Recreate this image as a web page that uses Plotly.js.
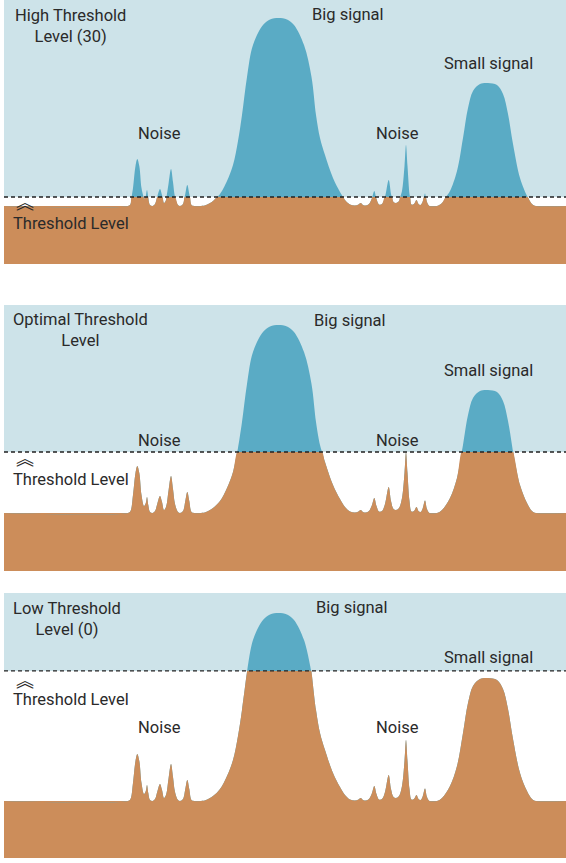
<!DOCTYPE html>
<html>
<head>
<meta charset="utf-8">
<script src="https://cdn.plot.ly/plotly-3.0.1.min.js"></script>
<style>html,body{margin:0;padding:0;background:#fff;}#chart{width:566px;height:863px;}</style>
</head>
<body>
<div id="chart"></div>
<script>
// Signal trace (time, amplitude above the noise floor)
const sigX = [4, 128, 130.5, 133, 135.5, 137.3, 139.3, 141.5, 144, 145.8, 147, 148.3, 150, 152.5, 155, 157.5, 160, 162, 164, 166, 168.5, 171, 173, 175, 178, 180, 183, 185.3, 187.3, 189.3, 191.5, 194, 201, 206, 213, 220, 227, 233, 238, 242, 247, 253, 263, 270, 278.5, 287, 294, 304, 311.5, 316, 320, 325, 333, 340, 345, 350, 355, 358.5, 360.7, 363, 366, 369, 372, 374.3, 376.5, 379, 382, 385, 388.7, 391, 393.5, 396, 399, 402, 404.5, 406, 407.5, 409.5, 411.5, 414, 416.5, 418.5, 420.5, 422.5, 425, 427, 429.5, 437, 442, 450, 457, 463, 468, 473, 480, 488, 497, 503, 508, 513, 520, 527, 532, 536, 566];
const sigY = [0, 0, 2, 18, 40, 47, 40, 18, 7, 10, 16, 8, 1, 0, 2, 10, 17, 11, 3, 6, 22, 37, 24, 9, 1, 0, 2, 12, 21, 12, 1, 0, 0, 1, 5, 12, 25, 41, 65, 91, 129, 161, 181, 186.5, 188, 186.5, 181, 161, 129, 91, 68, 51, 28, 14, 6, 1.5, 0.5, 1.5, 3, 1, 0.5, 2, 8, 15, 7, 1.5, 2, 9, 26, 12, 4, 3, 5, 15, 40, 61, 40, 12, 1.5, 2, 6, 2, 1, 4, 12.5, 4, 0, 0, 3, 15, 35, 68, 98, 115, 122, 123, 121, 112, 92, 62, 28, 10, 2, 0, 0];

// Threshold level of each panel (same amplitude units)
const thresholds = [9, 61, 130];
const panelTitles = ['High Threshold<br>Level (30)', 'Optimal Threshold<br>Level', 'Low Threshold<br>Level (0)'];
const signalLabels = ['Big signal', 'Small signal', 'Noise', 'Noise'];
const thresholdLabel = 'Threshold Level';

const LIGHT = '#cde3e9', BLUE = '#5aabc5', ORANGE = '#cc8d5a', INK = '#2a2a2a';
const FONT = 'Roboto, Arial, sans-serif';

// panel geometry
const panels = [
  {dom: [0.6923, 1.0], range: [-58, 206], title: [70, 180], big: [347.5, 192], chev: 5, tl: -17},
  {dom: [0.3345, 0.6445], range: [-58, 208], title: [80, 183], big: [350, 193], chev: 56, tl: 34},
  {dom: [0.0, 0.3089], range: [-57, 208], title: [67, 182], big: [352, 193], chev: 122, tl: 101}
];

function withCrossings(xs, ys, thr) {
  const X = [], Y = [];
  for (let i = 0; i < xs.length; i++) {
    X.push(xs[i]); Y.push(ys[i]);
    if (i < xs.length - 1 && (ys[i] - thr) * (ys[i + 1] - thr) < 0) {
      const xc = xs[i] + (thr - ys[i]) * (xs[i + 1] - xs[i]) / (ys[i + 1] - ys[i]);
      X.push(xc); Y.push(thr);
    }
  }
  return {X, Y};
}

const data = [], shapes = [], annotations = [];
const layout = {
  width: 566, height: 863, autosize: false,
  margin: {l: 4, r: 0, t: 0, b: 5},
  paper_bgcolor: '#fff', plot_bgcolor: 'rgba(0,0,0,0)',
  showlegend: false, shapes, annotations
};

panels.forEach((p, i) => {
  const n = i === 0 ? '' : String(i + 1);
  const xa = 'x' + n, ya = 'y' + n;
  const thr = thresholds[i];
  layout['xaxis' + n] = {domain: [0, 1], range: [4, 566], anchor: ya, visible: false, fixedrange: true};
  layout['yaxis' + n] = {domain: p.dom, range: p.range, anchor: xa, visible: false, fixedrange: true};

  // background above threshold, ground below floor
  shapes.push({type: 'rect', xref: xa + ' domain', yref: ya, x0: 0, x1: 1, y0: thr, y1: p.range[1], fillcolor: LIGHT, line: {width: 0}, layer: 'below'});
  shapes.push({type: 'rect', xref: xa + ' domain', yref: ya, x0: 0, x1: 1, y0: p.range[0], y1: 0, fillcolor: ORANGE, line: {width: 0}, layer: 'below'});

  const c = withCrossings(sigX, sigY, thr);
  data.push({type: 'scatter', mode: 'lines', x: c.X, y: c.Y, xaxis: xa, yaxis: ya,
    line: {shape: 'spline', smoothing: 1, width: 0, color: BLUE}, fill: 'tozeroy', fillcolor: BLUE, hoverinfo: 'skip'});
  data.push({type: 'scatter', mode: 'lines', x: c.X, y: c.Y.map(v => Math.min(v, thr)), xaxis: xa, yaxis: ya,
    line: {shape: 'spline', smoothing: 1, width: 0, color: ORANGE}, fill: 'tozeroy', fillcolor: ORANGE, hoverinfo: 'skip'});

  shapes.push({type: 'line', xref: xa + ' domain', yref: ya, x0: 0, x1: 1, y0: thr, y1: thr, line: {color: '#222', width: 1.3, dash: '4px,3px'}, layer: 'above'});

  const f = {family: FONT, size: 16.5, color: INK};
  const ann = (x, y, text, extra) => annotations.push(Object.assign({xref: xa, yref: ya, x, y, text, showarrow: false, font: f, xanchor: 'center', yanchor: 'middle'}, extra || {}));
  ann(p.title[0], p.title[1], panelTitles[i], {align: 'center'});
  ann(p.big[0], p.big[1], signalLabels[0]);
  ann(488, 143, signalLabels[1]);
  ann(159, 73, signalLabels[2]);
  ann(397, 73, signalLabels[3]);
  ann(11, p.tl, thresholdLabel, {xanchor: 'left'});
  ann(25, p.chev, '︽', {font: {family: 'Noto Sans CJK SC', size: 18, color: INK}});
});

Plotly.newPlot('chart', data, layout, {staticPlot: true, displayModeBar: false});
</script>
</body>
</html>
